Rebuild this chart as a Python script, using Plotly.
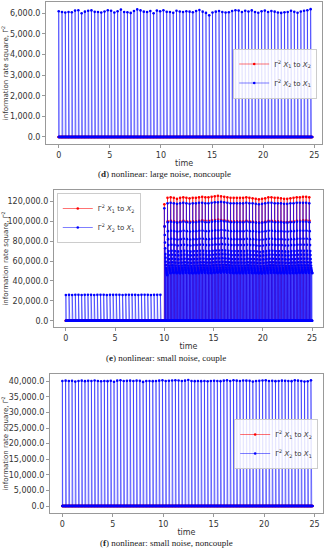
import numpy as np
import plotly.graph_objects as go

# ---------------- data ----------------
SPIKE_PERIOD = 0.32      # time between spikes
T_END = 24.8             # end of the simulation

# (d) large noise, noncouple : spike heights of Gamma^2 X2->X1
d_blue = [6100, 6060, 6040, 6060, 6050, 6130, 6150, 6000, 6080, 6120,
          6140, 6070, 6060, 6040, 6090, 6150, 6120, 6040, 6100, 6180,
          6060, 6050, 6020, 6110, 6190, 6140, 6080, 6060, 6110, 6000,
          6130, 6100, 6150, 6070, 6060, 6030, 6120, 6090, 6060, 6100,
          6080, 6050, 6110, 6160, 6080, 6020, 5900, 6040, 6080, 6110,
          6060, 6040, 6050, 6110, 6150, 6130, 6060, 6120, 6090, 6140,
          6060, 6030, 6100, 6130, 6060, 6110, 6080, 6040, 6020, 6050,
          6060, 6120, 6070, 6030, 6090, 6120, 6150, 6200]
d_red = [0.0] * len(d_blue)

# (e) small noise, couple
e_pre = [25900, 26000, 25900, 26100, 26000, 25900, 26000, 26100, 26000, 25900,
         26000, 26000, 26100, 25900, 26000, 26000, 26100, 26000, 25900, 26000,
         26100, 26000, 26000, 25900, 26000, 26100, 26000, 25900, 26000, 26000,
         26000]
e_red_pre = [0.0] * len(e_pre)
e_blue_top = [113000, 118000, 118500, 118000, 117500, 118000, 118500, 118000, 117500, 118000,
              118000, 118500, 118500, 118000, 118000, 118500, 119000, 119000, 119500, 119000,
              118500, 118000, 118000, 118000, 118000, 118000, 118500, 118000, 118000, 117500,
              117000, 117500, 118000, 118500, 118500, 118000, 118000, 118000, 117500, 117500,
              118000, 118000, 118500, 118500, 118500, 118500, 118000]
e_red_top = [117000, 123500, 124000, 123500, 122500, 123500, 124000, 123500, 123000, 123500,
             123500, 124000, 124500, 124000, 124000, 124500, 125000, 125500, 125000, 124500,
             124000, 123500, 123500, 123500, 123500, 123500, 124000, 123500, 123000, 122500,
             122000, 122500, 123000, 124000, 124000, 123500, 123500, 123000, 122500, 122500,
             123000, 123500, 124000, 124000, 124500, 124500, 124000]
# height of the successive sub-peaks inside one cycle, relative to the cycle top
e_blue_ratio = [1.0, 0.839, 0.763, 0.695, 0.644, 0.593, 0.559, 0.525,
                0.495, 0.47, 0.45, 0.435, 0.425, 0.415, 0.41, 0.405]
e_red_ratio = [1.0, 0.81]
E_SWITCH = 10.0
E_SUB_STEP = 0.02

# (f) small noise, noncouple
f_blue = [40100, 40200, 40100, 40150, 39900, 40100, 40200, 40050, 40150, 40100,
          40250, 40100, 40000, 40100, 40050, 40150, 39850, 40200, 40300, 40100,
          40150, 40200, 40100, 40200, 40150, 39800, 40100, 40100, 40050, 40100,
          40200, 40300, 40100, 40150, 40250, 40300, 40250, 40100, 40200, 40400,
          40100, 40050, 40100, 40050, 40100, 40000, 40100, 40150, 40100, 40050,
          40200, 40300, 40100, 40300, 40200, 40100, 40250, 40200, 40150, 39900,
          40100, 40150, 40250, 40300, 40100, 40150, 40050, 40100, 40200, 40150,
          40100, 40050, 40300, 40200, 40100, 39900, 40000, 40300]
f_red = [0.0] * len(f_blue)

Y_TICKS_D = [0, 1000, 2000, 3000, 4000, 5000, 6000]
Y_TICKS_E = [0, 20000, 40000, 60000, 80000, 100000, 120000]
Y_TICKS_F = [0, 5000, 10000, 15000, 20000, 25000, 30000, 35000, 40000]
X_TICKS = [0, 5, 10, 15, 20, 25]

CAPTIONS = ["(<b>d</b>) nonlinear: large noise, noncouple",
            "(<b>e</b>) nonlinear: small noise, couple",
            "(<b>f</b>) nonlinear: small noise, noncouple"]
NAME_12 = "Γ<sup>2</sup> <i>X</i><sub>1</sub> to <i>X</i><sub>2</sub>"
NAME_21 = "Γ<sup>2</sup> <i>X</i><sub>2</sub> to <i>X</i><sub>1</sub>"


# ---------------- series construction ----------------
def baseline():
    g = np.arange(0, T_END + 1e-9, 0.04)
    return list(g), [0.0] * len(g)


def spike_series(times, heights):
    xs, ys = baseline()
    for t, h in zip(times, heights):
        xs.append(float(t) + 0.001)
        ys.append(float(h))
    pts = sorted(zip(xs, ys))
    return [p[0] for p in pts], [p[1] for p in pts]


def e_series(tops, ratios, pre):
    xs, ys = baseline()
    for k, h in enumerate(pre):
        xs.append(k * SPIKE_PERIOD + 0.001)
        ys.append(float(h))
    for m, top in enumerate(tops):
        t0 = E_SWITCH + m * SPIKE_PERIOD
        for j, r in enumerate(ratios):
            s = t0 + j * E_SUB_STEP
            xs += [s, s + 0.004]
            ys += [0.0, top * r]
    pts = sorted(zip(xs, ys))
    return [p[0] for p in pts], [p[1] for p in pts]


t_d = SPIKE_PERIOD * np.arange(len(d_blue))
t_f = SPIKE_PERIOD * np.arange(len(f_blue))

dx_b, dy_b = spike_series(t_d, d_blue)
dx_r, dy_r = spike_series(t_d, d_red)
fx_b, fy_b = spike_series(t_f, f_blue)
fx_r, fy_r = spike_series(t_f, f_red)
ex_b, ey_b = e_series(e_blue_top, e_blue_ratio, e_pre)
ex_r, ey_r = e_series(e_red_top, e_red_ratio, e_red_pre)

# ---------------- figure ----------------
RED_LINE = "rgba(255,0,0,0.55)"
BLUE_LINE = "rgba(0,0,255,0.5)"

fig = go.Figure()
panels = [
    ("", "", (dx_r, dy_r), (dx_b, dy_b), "legend"),
    ("2", "2", (ex_r, ey_r), (ex_b, ey_b), "legend2"),
    ("3", "3", (fx_r, fy_r), (fx_b, fy_b), "legend3"),
]
for xa, ya, red, blue, leg in panels:
    fig.add_trace(go.Scatter(
        x=red[0], y=red[1], mode="lines+markers", name=NAME_12,
        line=dict(color=RED_LINE, width=1),
        marker=dict(color="red", size=2.6, line=dict(width=0)),
        xaxis="x" + xa, yaxis="y" + ya, legend=leg))
    fig.add_trace(go.Scatter(
        x=blue[0], y=blue[1], mode="lines+markers", name=NAME_21,
        line=dict(color=BLUE_LINE, width=1),
        marker=dict(color="blue", size=2.6, line=dict(width=0)),
        xaxis="x" + xa, yaxis="y" + ya, legend=leg))

W, H = 325, 550
FRAME = "#999999"
TICKFONT = dict(family="DejaVu Sans", size=8, color="#333333")


def xaxis(l, r, rng, anchor):
    return dict(domain=[l / W, r / W], range=rng, anchor=anchor,
                tickvals=X_TICKS, ticks="outside", ticklen=3, tickcolor=FRAME,
                showline=True, linecolor=FRAME, linewidth=1, mirror=True,
                showgrid=False, zeroline=False, tickfont=TICKFONT,
                title=dict(text="time", font=dict(family="DejaVu Sans", size=8, color="#333"),
                           standoff=1))


def yaxis(top, bot, rng, anchor, ticks):
    return dict(domain=[1 - bot / H, 1 - top / H], range=rng, anchor=anchor,
                tickvals=ticks, tickformat=",.1f", ticks="outside", ticklen=3,
                tickcolor=FRAME, showline=True, linecolor=FRAME, linewidth=1,
                mirror=True, showgrid=False, zeroline=False, tickfont=TICKFONT,
                title=dict(text="information rate square, Γ<sup>2</sup>",
                           font=dict(family="DejaVu Sans", size=7, color="#333"),
                           standoff=3))


LEGFONT = dict(family="DejaVu Sans", size=7, color="#333")
LEGCOMMON = dict(bgcolor="rgba(255,255,255,0.85)", bordercolor="#cccccc", borderwidth=1,
                 font=LEGFONT, itemwidth=30, tracegroupgap=0)
fig.update_layout(
    width=W, height=H, margin=dict(l=0, r=0, t=0, b=0),
    paper_bgcolor="white", plot_bgcolor="white", showlegend=True,
    xaxis=xaxis(39, 322, [-1.24, 25.76], "y"),
    yaxis=yaxis(2, 144, [-340, 6548], "x", Y_TICKS_D),
    xaxis2=xaxis(47, 323, [-1.22, 26.12], "y2"),
    yaxis2=yaxis(190, 327, [-6330, 131400], "x2", Y_TICKS_E),
    xaxis3=xaxis(43, 323, [-1.23, 25.84], "y3"),
    yaxis3=yaxis(374, 513, [-2245, 42340], "x3", Y_TICKS_F),
    legend=dict(x=317 / W, y=1 - 73.5 / H, xanchor="right", yanchor="middle", **LEGCOMMON),
    legend2=dict(x=50 / W, y=1 - 193 / H, xanchor="left", yanchor="top", **LEGCOMMON),
    legend3=dict(x=318 / W, y=1 - 444 / H, xanchor="right", yanchor="middle", **LEGCOMMON),
)

cap_y = [174, 358, 543]
cap_x = [160, 162, 162]
for txt, cy, cx in zip(CAPTIONS, cap_y, cap_x):
    fig.add_annotation(text=txt, x=cx / W, y=1 - cy / H, xref="paper", yref="paper",
                       showarrow=False, xanchor="center", yanchor="middle",
                       font=dict(family="Liberation Serif", size=9, color="#222"))

fig.write_html("out.html",
               config={"displayModeBar": False},
               post_script="document.body.style.margin='0';"
                           "document.body.style.overflow='hidden';")
